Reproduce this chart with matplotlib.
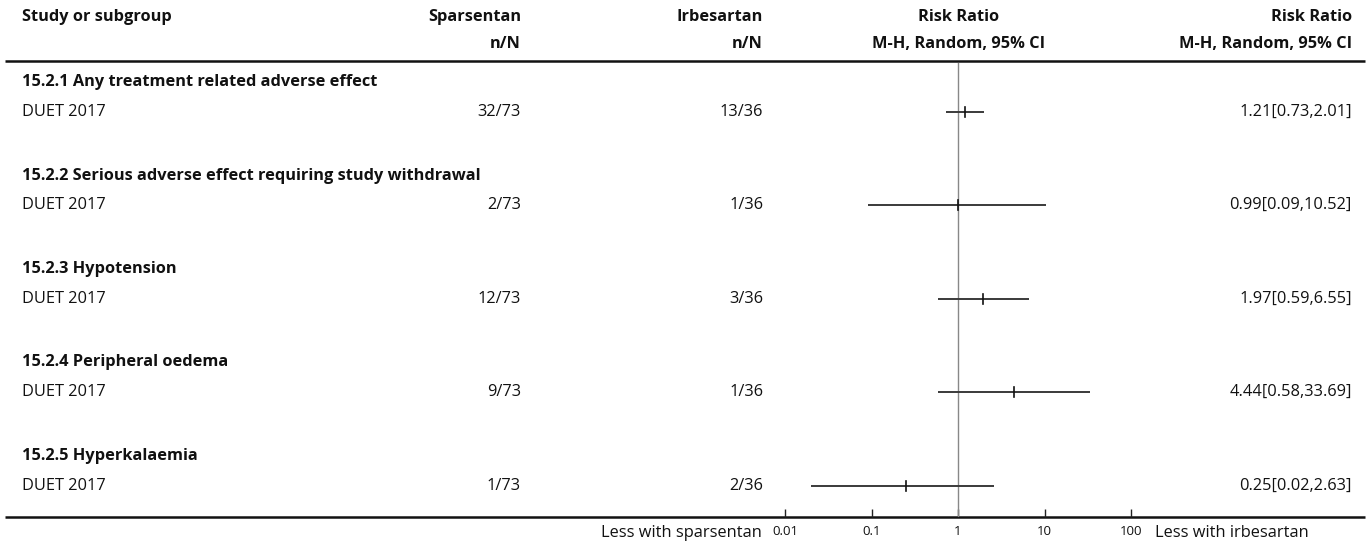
import matplotlib
matplotlib.use("Agg")
import matplotlib.pyplot as plt

plt.rcParams['font.family'] = ['Open Sans', 'DejaVu Sans']

# Subgroups and study data
subgroups = [
    "15.2.1 Any treatment related adverse effect",
    "15.2.2 Serious adverse effect requiring study withdrawal",
    "15.2.3 Hypotension",
    "15.2.4 Peripheral oedema",
    "15.2.5 Hyperkalaemia",
]
studies = ["DUET 2017"] * 5
sparsentan = ["32/73", "2/73", "12/73", "9/73", "1/73"]
irbesartan = ["13/36", "1/36", "3/36", "1/36", "2/36"]
rr = [1.21, 0.99, 1.97, 4.44, 0.25]
ci_low = [0.73, 0.09, 0.59, 0.58, 0.02]
ci_high = [2.01, 10.52, 6.55, 33.69, 2.63]
tick_values = [0.01, 0.1, 1, 10, 100]
tick_labels = ["0.01", "0.1", "1", "10", "100"]

W, H = 1370, 547
fig = plt.figure(figsize=(W / 100, H / 100), dpi=100)

# Overlay axes in pixel units for the table text and rules
ax = fig.add_axes([0, 0, 1, 1])
ax.set_xlim(0, W)
ax.set_ylim(H, 0)
ax.axis("off")

fs = 11.8
txt = "#111111"
x_study, x_sp, x_ir, x_rr, x_ci = 22, 521, 763, 959, 1352


def put(x, y, s, ha="left", bold=False):
    ax.text(x, y, s, fontsize=fs, fontweight="bold" if bold else "normal",
            va="center", ha=ha, color=txt)


# Column headers
put(x_study, 17, "Study or subgroup", bold=True)
put(x_sp, 17, "Sparsentan", "right", True)
put(x_sp, 44, "n/N", "right", True)
put(x_ir, 17, "Irbesartan", "right", True)
put(x_ir, 44, "n/N", "right", True)
put(x_rr, 17, "Risk Ratio", "center", True)
put(x_rr, 44, "M-H, Random, 95% CI", "center", True)
put(x_ci, 17, "Risk Ratio", "right", True)
put(x_ci, 44, "M-H, Random, 95% CI", "right", True)

ax.plot([5, 1365], [61, 61], color="#111111", lw=1.8, solid_capstyle="butt")
ax.plot([5, 1365], [517, 517], color="#111111", lw=1.8, solid_capstyle="butt")

head_y = [82, 176, 269, 362, 456]
row_y = [112, 205, 299, 392, 486]

for i in range(len(subgroups)):
    put(x_study, head_y[i], subgroups[i], bold=True)
    put(x_study, row_y[i], studies[i])
    put(x_sp, row_y[i], sparsentan[i], "right")
    put(x_ir, row_y[i], irbesartan[i], "right")
    put(x_ci, row_y[i], f"{rr[i]:.2f}[{ci_low[i]:.2f},{ci_high[i]:.2f}]", "right")

put(762, 533, "Less with sparsentan", "right")
put(1155, 533, "Less with irbesartan", "left")

# Forest plot axes (log scale)
x0, x1 = 785, 1131
y_top, y_bot = 63, 517
fax = fig.add_axes([x0 / W, (H - y_bot) / H, (x1 - x0) / W, (y_bot - y_top) / H])
fax.set_xscale("log")
fax.set_xlim(0.01, 100)
fax.set_ylim(y_bot, y_top)
fax.patch.set_alpha(0)
for s in fax.spines.values():
    s.set_visible(False)
fax.set_xticks(tick_values)
fax.set_xticklabels(tick_labels)
fax.minorticks_off()
fax.tick_params(axis="x", direction="in", length=6, width=1, color="#222222",
                labelsize=9.5, pad=6, labelcolor=txt)
fax.set_yticks([])
fax.axvline(1, color="#888888", lw=1)

for i in range(len(rr)):
    fax.plot([ci_low[i], ci_high[i]], [row_y[i], row_y[i]], color="#3a3a3a", lw=1.4, solid_capstyle="butt")
    fax.plot([rr[i], rr[i]], [row_y[i] - 5, row_y[i] + 5], color="#111111", lw=1.2)

fig.savefig("out.png", dpi=100)
